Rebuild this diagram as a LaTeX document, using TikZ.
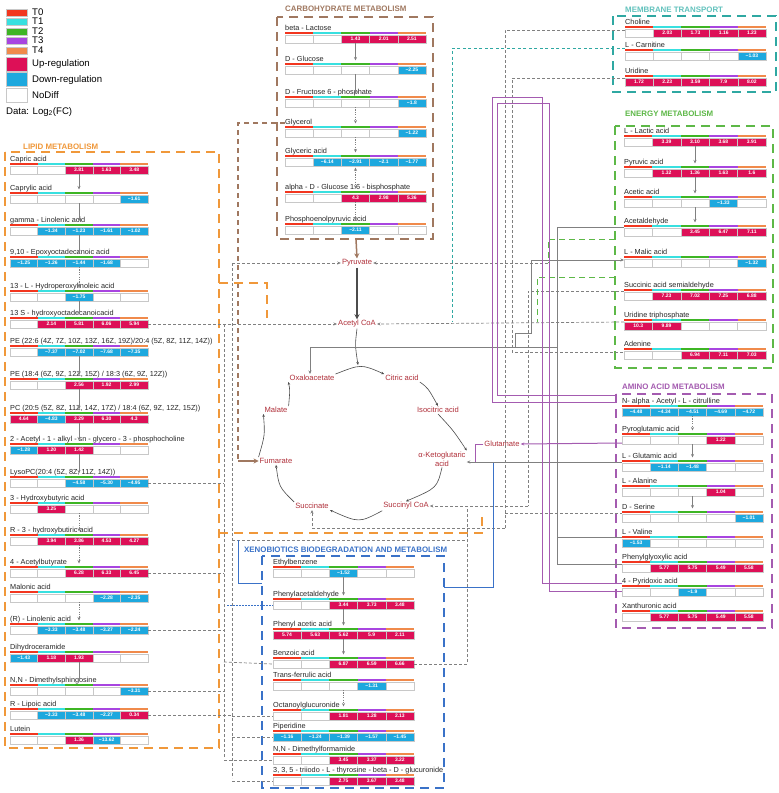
\documentclass[tikz,border=0pt]{standalone}
\usepackage{fontspec}
\setmainfont{Liberation Sans}
\usetikzlibrary{arrows.meta}
\definecolor{tc0}{HTML}{F2361F}
\definecolor{tc1}{HTML}{38E0E0}
\definecolor{tc2}{HTML}{3DB524}
\definecolor{tc3}{HTML}{A845E0}
\definecolor{tc4}{HTML}{F08A4B}
\definecolor{fu}{HTML}{DD1057}
\definecolor{fd}{HTML}{1DA8DE}
\definecolor{fn}{HTML}{FFFFFF}
\definecolor{cellb}{HTML}{C8C8C8}
\definecolor{lipc}{HTML}{F0983A}
\definecolor{carbc}{HTML}{A07860}
\definecolor{memc}{HTML}{2FA8A2}
\definecolor{memt}{HTML}{62C2BD}
\definecolor{enc}{HTML}{5DB847}
\definecolor{amc}{HTML}{A45BB0}
\definecolor{xenc}{HTML}{3A72C8}
\definecolor{tcared}{HTML}{B0303A}
\definecolor{lnk}{HTML}{808080}
\tikzset{
  lbl/.style={font=\fontsize{7.3}{8}\selectfont,inner sep=0pt,text=black!85},
  val/.style={font=\fontsize{5}{5}\selectfont\bfseries,text=white,inner sep=0pt},
  tca/.style={font=\fontsize{7.6}{9}\selectfont,text=tcared,inner sep=1pt},
  ttl/.style={font=\fontsize{7.9}{9}\selectfont\bfseries,anchor=base west,inner sep=0pt},
  leg/.style={font=\fontsize{9.6}{10}\selectfont,anchor=west,inner sep=0pt},
  boxd/.style={dash pattern=on 9pt off 6pt,line width=1.3pt},
  tip/.style={-{Stealth[length=3.5pt,width=3pt]}},
  fl/.style={draw=lnk,line width=0.8pt,tip},
  fld/.style={draw=lnk,line width=0.8pt,dash pattern=on 1.2pt off 1.2pt,tip},
  gd/.style={draw=lnk,line width=0.7pt,dash pattern=on 3pt off 2pt},
  gs/.style={draw=lnk,line width=0.8pt},
  grd/.style={draw=enc,line width=1pt,dash pattern=on 6pt off 4pt},
  pl/.style={draw=amc,line width=1pt},
  cyc/.style={draw=black!70,line width=0.6pt,-{Stealth[length=3pt,width=2.6pt]}},
}
\newcommand\met[6]{%
  \node[lbl,anchor=base west] (#1) at (#2,#3-2.2) {#5};
  \coordinate (#1-L) at (#2,#3+6);
  \coordinate (#1-R) at (#2+#4,#3+6);
  \coordinate (#1-N) at (#2+#4/2,#3-3.5);
  \coordinate (#1-S) at (#2+#4/2,#3+10);
  \foreach \t/\v [count=\i from 0] in {#6}{%
    \pgfmathsetmacro\xa{#2+\i*#4/5}%
    \pgfmathsetmacro\xb{#2+(\i+1)*#4/5}%
    \fill[tc\i] (\xa,#3-1) rectangle (\xb,#3+1.2);
    \filldraw[fill=f\t,draw=cellb,line width=0.5pt] (\xa,#3+1.8) rectangle (\xb,#3+10);
    \if\t n\else\node[val] at ({(\xa+\xb)/2},#3+6.1) {\v};\fi
  }%
}
\begin{document}
\begin{tikzpicture}[x=1pt,y=-1pt]
\useasboundingbox (0,0) rectangle (779,793);
\fill[white] (0,0) rectangle (779,793);
% ---------- legend
\foreach \c/\a/\b/\n [count=\k] in {tc0/9/16/T0,tc1/18/25/T1,tc2/28/35/T2,tc3/37/44/T3,tc4/47/54/T4}{
  \filldraw[fill=\c,draw=cellb,line width=0.4pt] (6,\a) rectangle (27,\b);
  \node[leg] (legt\k) at (32,{(\a+\b)/2}) {\n};
}
\filldraw[fill=fu,draw=cellb,line width=0.4pt] (6,57) rectangle (27,71);
\node[leg] (legu) at (32,64) {Up-regulation};
\filldraw[fill=fd,draw=cellb,line width=0.4pt] (6,72) rectangle (27,86);
\node[leg] (legd) at (32,80) {Down-regulation};
\filldraw[fill=white,draw=cellb,line width=0.4pt] (6,88) rectangle (27,102);
\node[leg] (legn) at (32,95) {NoDiff};
\node[leg] (legdata) at (6,112) {Data: Log\textsubscript{2}(FC)};

% ---------- boxes and titles
\draw[boxd,lipc] (5,152) rectangle (219,748);
\node[ttl,text=lipc] (tlip) at (23,149) {LIPID METABOLISM};
\draw[boxd,carbc] (277,17) rectangle (433,239);
\node[ttl,text=carbc] (tcarb) at (285,11) {CARBOHYDRATE METABOLISM};
\draw[boxd,memc] (613,16) rectangle (776,92);
\node[ttl,text=memt] (tmem) at (625,12) {MEMBRANE TRANSPORT};
\draw[boxd,enc] (615,126) rectangle (773,368);
\node[ttl,text=enc] (ten) at (625,116) {ENERGY METABOLISM};
\draw[boxd,amc] (616,394) rectangle (772,628);
\node[ttl,text=amc] (tam) at (622,389) {AMINO ACID METABOLISM};
\draw[boxd,xenc] (262,556) rectangle (444,788);
\node[ttl,text=xenc] (txen) at (244,552) {XENOBIOTICS BIODEGRADATION AND METABOLISM};

% ---------- lipid
\met{l1}{10}{164}{138}{Capric acid}{n/0,n/0,u/3.81,u/1.63,u/3.48}
\met{l2}{10}{193}{138}{Caprylic acid}{n/0,n/0,n/0,n/0,d/−1.61}
\met{l3}{10}{225}{138}{gamma - Linolenic acid}{n/0,d/−1.34,d/−1.23,d/−1.61,d/−1.02}
\met{l4}{10}{257}{138}{9,10 - Epoxyoctadecanoic acid}{d/−1.25,d/−1.26,d/−1.44,d/−1.68,n/0}
\met{l5}{10}{291}{138}{13 - L - Hydroperoxylinoleic acid}{n/0,n/0,d/−1.75,n/0,n/0}
\met{l6}{10}{318}{138}{13 S - hydroxyoctadecanoicacid}{n/0,u/2.14,u/5.81,u/6.06,u/5.94}
\met{l7}{10}{346}{138}{PE (22:6 (4Z, 7Z, 10Z, 13Z, 16Z, 19Z)/20:4 (5Z, 8Z, 11Z, 14Z))}{n/0,d/−7.37,d/−7.02,d/−7.68,d/−7.35}
\met{l8}{10}{379}{138}{PE (18:4 (6Z, 9Z, 12Z, 15Z) / 18:3 (6Z, 9Z, 12Z))}{n/0,n/0,u/2.56,u/1.92,u/2.99}
\met{l9}{10}{413}{138}{PC (20:5 (5Z, 8Z, 11Z, 14Z, 17Z) / 18:4 (6Z, 9Z, 12Z, 15Z))}{u/4.64,d/−4.83,u/3.29,u/6.30,u/4.3}
\met{l10}{10}{444}{138}{2 - Acetyl - 1 - alkyl - sn - glycero - 3 - phosphocholine}{d/−1.28,u/1.20,u/1.42,n/0,n/0}
\met{l11}{10}{477}{138}{LysoPC(20:4 (5Z, 8Z, 11Z, 14Z))}{n/0,n/0,d/−4.58,d/−5.30,d/−4.95}
\met{l12}{10}{503}{138}{3 - Hydroxybutyric acid}{n/0,u/3.25,n/0,n/0,n/0}
\met{l13}{10}{535}{138}{R - 3 - hydroxybutiric acid}{n/0,u/3.94,u/3.86,u/4.53,u/4.27}
\met{l14}{10}{567}{138}{4 - Acetylbutyrate}{n/0,n/0,u/6.28,u/6.33,u/6.45}
\met{l15}{10}{592}{138}{Malonic acid}{n/0,n/0,n/0,d/−2.28,d/−2.35}
\met{l16}{10}{624}{138}{(R) - Linolenic acid}{n/0,d/−3.33,d/−3.48,d/−3.27,d/−2.24}
\met{l17}{10}{652}{138}{Dihydroceramide}{d/−1.43,u/1.18,u/1.93,n/0,n/0}
\met{l18}{10}{685}{138}{N,N - Dimethylsphingosine}{n/0,n/0,n/0,n/0,d/−3.31}
\met{l19}{10}{709}{138}{R - Lipoic acid}{n/0,d/−3.33,d/−3.48,d/−2.27,u/0.34}
\met{l20}{10}{734}{138}{Lutein}{n/0,n/0,u/1.36,d/−13.62,n/0}
\draw[fl] (l1-S) -- (l2-N);
\draw[fl] (l2-S) -- (l3-N);
\draw[fl] (l3-S) -- (l4-N);
\draw[fld] (l4-S) -- (l5-N);
\draw[fl] (l5-S) -- (l6-N);
\draw[fl] (l7-S) -- (l8-N);
\draw[fl] (l8-S) -- (l9-N);
\draw[fl] (l9-S) -- (l10-N);
\draw[fl] (l10-S) -- (l11-N);
\draw[fld] (l12-S) -- (l13-N);
\draw[fld] (l13-S) -- (l14-N);
\draw[fld] (l15-S) -- (l16-N);
\draw[fl] (l17-S) -- (l18-N);

% ---------- carbohydrate
\met{c1}{285}{33}{141}{beta - Lactose}{n/0,n/0,u/1.43,u/2.01,u/2.51}
\met{c2}{285}{64}{141}{D - Glucose}{n/0,n/0,n/0,n/0,d/−2.25}
\met{c3}{285}{97}{141}{D - Fructose 6 - phosphate}{n/0,n/0,n/0,n/0,d/−1.8}
\met{c4}{285}{127}{141}{Glycerol}{n/0,n/0,n/0,n/0,d/−1.22}
\met{c5}{285}{156}{141}{Glyceric acid}{n/0,d/−6.14,d/−2.91,d/−2.1,d/−1.77}
\met{c6}{285}{192}{141}{alpha - D - Glucose 1.6 - bisphosphate}{n/0,n/0,u/4.3,u/2.98,u/5.36}
\met{c7}{285}{224}{141}{Phosphoenolpyruvic acid}{n/0,n/0,d/−2.11,n/0,n/0}
\draw[fl] (c1-S) -- (c2-N);
\draw[fl] (c2-S) -- (c3-N);
\draw[fld] (c3-S) -- (c4-N);
\draw[fld] (c4-S) -- (c5-N);
\draw[fld,{Stealth[length=3.5pt,width=3pt]}-{Stealth[length=3.5pt,width=3pt]}] ([yshift=-1.5pt]c5-S) -- (c6-N);
\draw[fld] (c6-S) -- (c7-N);

% ---------- membrane
\met{m1}{625}{27}{141}{Choline}{n/0,u/2.03,u/1.73,u/1.16,u/1.23}
\met{m2}{625}{50}{141}{L - Carnitine}{n/0,n/0,n/0,n/0,d/−1.03}
\met{m3}{625}{76}{141}{Uridine}{u/1.72,u/2.23,u/3.59,u/7.9,u/8.02}

% ---------- energy
\met{e1}{624}{136}{142}{L - Lactic acid}{n/0,u/3.39,u/3.10,u/3.68,u/3.91}
\met{e2}{624}{167}{142}{Pyruvic acid}{n/0,u/1.32,u/1.36,u/1.63,u/1.6}
\met{e3}{624}{197}{142}{Acetic acid}{n/0,n/0,n/0,d/−1.33,n/0}
\met{e4}{624}{226}{142}{Acetaldehyde}{n/0,n/0,u/3.45,u/6.47,u/7.11}
\met{e5}{624}{257}{142}{L - Malic acid}{n/0,n/0,n/0,n/0,d/−1.32}
\met{e6}{624}{290}{142}{Succinic acid semialdehyde}{n/0,u/7.23,u/7.02,u/7.25,u/6.88}
\met{e7}{624}{320}{142}{Uridine triphosphate}{u/10.3,u/9.89,n/0,n/0,n/0}
\met{e8}{624}{349}{142}{Adenine}{n/0,n/0,u/6.94,u/7.11,u/7.03}
\draw[fl] (e1-S) -- (e2-N);
\draw[fl] (e2-S) -- (e3-N);
\draw[fl] (e3-S) -- (e4-N);

% ---------- amino acid
\met{a1}{622}{406}{141}{N- alpha - Acetyl - L - citrulline}{d/−4.48,d/−4.34,d/−4.51,d/−4.69,d/−4.72}
\met{a2}{622}{434}{141}{Pyroglutamic acid}{n/0,n/0,n/0,u/1.22,n/0}
\met{a3}{622}{461}{141}{L - Glutamic acid}{n/0,d/−1.14,d/−1.48,n/0,n/0}
\met{a4}{622}{486}{141}{L - Alanine}{n/0,n/0,n/0,u/1.04,n/0}
\met{a5}{622}{512}{141}{D - Serine}{n/0,n/0,n/0,n/0,d/−1.01}
\met{a6}{622}{537}{141}{L - Valine}{d/−1.53,n/0,n/0,n/0,n/0}
\met{a7}{622}{562}{141}{Phenylglyoxylic acid}{n/0,u/5.77,u/5.75,u/5.49,u/5.58}
\met{a8}{622}{586}{141}{4 - Pyridoxic acid}{n/0,n/0,d/−1.9,n/0,n/0}
\met{a9}{622}{611}{141}{Xanthuronic acid}{n/0,u/5.77,u/5.75,u/5.49,u/5.58}
\draw[fld] (a1-S) -- (a2-N);
\draw[fl] (a2-S) -- (a3-N);
\draw[fl] (a4-S) -- (a5-N);

% ---------- xenobiotics
\met{x1}{273}{567}{141}{Ethylbenzene}{n/0,n/0,d/−1.52,n/0,n/0}
\met{x2}{273}{599}{141}{Phenylacetaldehyde}{n/0,n/0,u/3.44,u/3.73,u/3.48}
\met{x3}{273}{629}{141}{Phenyl acetic acid}{u/5.74,u/5.63,u/5.62,u/5.9,u/2.11}
\met{x4}{273}{658}{141}{Benzoic acid}{n/0,n/0,u/6.87,u/6.59,u/6.66}
\met{x5}{273}{680}{141}{Trans-ferrulic acid}{n/0,n/0,n/0,d/−1.31,n/0}
\met{x6}{273}{710}{141}{Octanoylglucuronide}{n/0,n/0,u/1.81,u/1.28,u/2.13}
\met{x7}{273}{731}{141}{Piperidine}{d/−1.16,d/−1.24,d/−1.39,d/−1.57,d/−1.45}
\met{x8}{273}{754}{141}{N,N - Dimethylformamide}{n/0,n/0,u/3.45,u/3.37,u/3.22}
\met{x9}{273}{775}{141}{3, 3, 5 - triiodo - L - thyrosine - beta - D - glucuronide}{n/0,n/0,u/2.75,u/3.67,u/3.48}
\draw[fl] (x1-S) -- (x2-N);
\draw[fl] (x2-S) -- (x3-N);
\draw[fl] (x3-S) -- (x4-N);
\draw[fld] (x5-S) -- (x6-N);

% ---------- TCA
\node[tca] (pyr) at (357,263) {Pyruvate};
\node[tca] (acoa) at (357,324) {Acetyl CoA};
\node[tca] (oxa) at (312,378) {Oxaloacetate};
\node[tca] (cit) at (402,378) {Citric acid};
\node[tca] (iso) at (438,410) {Isocitric acid};
\node[tca,align=center] (akg) at (442,459) {α-Ketoglutaric\\acid};
\node[tca] (sucoa) at (406,506) {Succinyl CoA};
\node[tca] (succ) at (312,506) {Succinate};
\node[tca] (fum) at (276,461) {Fumarate};
\node[tca] (mal) at (276,410) {Malate};
\node[tca] (glu) at (502,444) {Glutamate};

\draw[cyc] (acoa.south) .. controls (355,345) .. (358,365);
\draw[cyc] (oxa.north east) .. controls (361,364) .. (cit.north west);
\draw[cyc] (cit.south east) .. controls (428,388) .. (iso.north);
\draw[cyc] (iso.south) .. controls (453,430) .. (akg.north east);
\draw[cyc] (akg.south) .. controls (437,488) .. (sucoa.north);
\draw[cyc] (sucoa.south west) .. controls (359,523) .. (succ.south east);
\draw[cyc] (succ.north west) .. controls (279,487) .. (fum.south);
\draw[cyc] (fum.north west) .. controls (265,435) .. (mal.south west);
\draw[cyc] (mal.north east) .. controls (290,390) .. (oxa.south west);

\draw[carbc,line width=1.5pt,-{Stealth[length=5pt,width=5pt]}] (356,239) -- (pyr.north);
\draw[black!70,line width=1.3pt,-{Stealth[length=5pt,width=5pt]}] (pyr.south) -- (acoa.north);

% brown glycerol -> fumarate
\draw[carbc,line width=1.1pt,dash pattern=on 5pt off 4pt] (c4-L |- 0,123) -- (238,123) -- (238,461);
\draw[carbc,line width=1.5pt,-{Stealth[length=5pt,width=5pt]}] (238,461) -- (fum.west);

% orange lipid extra
\draw[lipc,boxd] (219,283) -- (267,283) -- (267,318);
\draw[lipc,boxd] (219,533) -- (482,533) -- (482,513);

% gray dashed: left web
\draw[gd,tip] (l6-R) -- (acoa.west);
\draw[gd] (224,324) -- (224,757);
\draw[gd] (232,263) -- (232,778);
\draw[gd,tip] (232,263) -- (pyr.west);
\draw[gd] (l11-R) -- (224,483);
\draw[gd] (l14-R) -- (224,573);
\draw[gd] (l16-R) -- (224,630);
\draw[gd] (l18-R) -- (224,691);
\draw[gd] (l19-R) -- (232,715);
\draw[gd] (224,662) -- (x4-L);
\draw[gd] (232,716) -- (x6-L);
\draw[gd] (232,737) -- (x7-L);
\draw[gd] (224,760) -- (x8-L);
\draw[gd] (232,781) -- (x9-L);
\draw[xenc,line width=0.8pt,dash pattern=on 1.5pt off 1.5pt] (227,605) -- (x2-L |- 0,605) -- (x2-L);
% gray dashed: succinyl and benzoic
\draw[gd] (232,540) -- (467,540);
\draw[gd] (x4-R) -- (467,664) -- (467,506);
\draw[gd,tip] (528,506) -- (sucoa.east);
\draw[gd] (e6-L |- 0,291) -- (528,291) -- (528,506);
\draw[gd,tip] (505,528) -- (312,528) -- (succ.south);
% blue solid
\draw[xenc,line width=0.9pt] (238,540) -- (238,583) -- (262,583);
\draw[xenc,line width=0.9pt] (444,587) -- (493,587) -- (493,462);

% right web
\draw[memc,line width=1pt,dash pattern=on 3pt off 2.5pt] (m2-L |- 0,48) -- (452,48) -- (452,322);
\draw[gd] (m1-L |- 0,30) -- (505,30) -- (505,528);
\draw[gd] (505,513) -- (a5-L |- 0,513);
\draw[gd] (m3-L |- 0,78) -- (512,78) -- (512,352) -- (e8-L |- 0,352);
\draw[grd] (615,239) -- (548,239) -- (548,263);
\draw[gd,tip] (548,263) -- (pyr.east);
\draw[grd] (615,277) -- (537,277) -- (537,322);
\draw[gd,tip] (e7-L |- 0,322) -- (acoa.east);
\draw[gs,tip] (e4-L |- 0,227) -- (557,227) -- (557,347) -- (310,347) -- (oxa.north -| 310,0);
\draw[gs] (557,347) -- (557,564);
\draw[gs] (a6-L |- 0,537) -- (557,537);
\draw[gs] (a7-L |- 0,564) -- (557,564);
\draw[gs,tip] (515,347) -- (515,333) -- (531,333) -- (531,260) -- (e5-L |- 0,260);
\draw[gs,tip] (a3-L |- 0,462) -- (akg.east |- 0,462);
\draw[pl,tip] (a3-L |- 0,443) -- (glu.east);
\draw[pl] (glu.west) -- (475,444) -- (475,462);
\draw[pl] (616,402) -- (492,402) -- (492,97) -- (542,97) -- (542,583) -- (a8-L |- 0,583);
\draw[pl] (616,395) -- (497,395) -- (497,103) -- (549,103) -- (549,591) -- (a8-L |- 0,591);
\end{tikzpicture}
\end{document}
